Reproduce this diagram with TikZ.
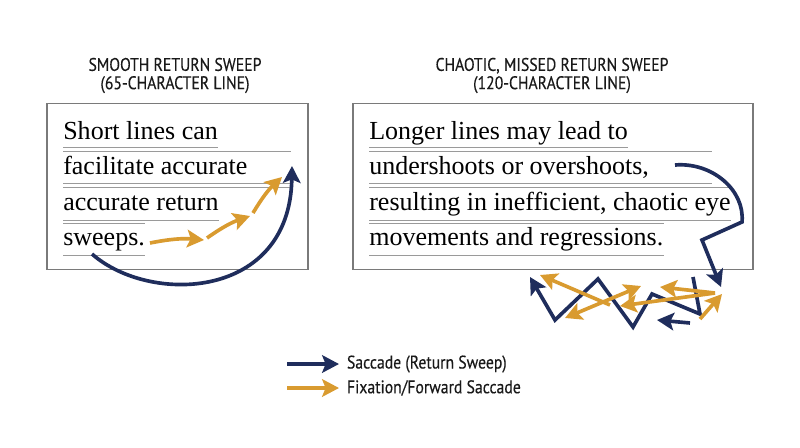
\documentclass[tikz,border=0pt]{standalone}
\usepackage{fontspec}
\setmainfont{Liberation Serif}
\setsansfont{PT Sans}
\newfontfamily\narrowsans[FakeStretch=0.86,FakeBold=0.3]{PT Sans}
\usetikzlibrary{arrows.meta}
\definecolor{navy}{HTML}{1F2D5C}
\definecolor{gold}{HTML}{D99B30}
\definecolor{rulegray}{HTML}{9A9A9A}
\definecolor{framegray}{HTML}{7A7A7A}

\begin{document}
\begin{tikzpicture}[x=0.025cm,y=-0.025cm,>={Stealth[length=12pt,width=12.5pt,inset=2.5pt]},
    title/.style={font=\narrowsans\fontsize{13}{13}\selectfont,align=center,text=black!90},
    body/.style={font=\fontsize{18.5}{20}\selectfont,anchor=base west,inner sep=0pt},
    frame/.style={draw=framegray,line width=0.9pt},
    rulers/.style={draw=rulegray,line width=0.6pt},
    sacc/.style={->,draw=navy,line width=2.6pt},
    fix/.style={->,draw=gold,line width=2.6pt},
    key/.style={font=\narrowsans\fontsize{13}{13}\selectfont,anchor=west,text=black!90}]
        \useasboundingbox (0,0) rectangle (800,447);
        % titles
        \node[title] (tleft) at (175,75.5) {SMOOTH RETURN SWEEP\\(65-CHARACTER LINE)};
        \node[title] (tright) at (552,75.5) {CHAOTIC, MISSED RETURN SWEEP\\(120-CHARACTER LINE)};
        % left box
        \draw[frame] (47,103.5) rectangle (308,269.5);
        \node[body] (s1) at (63,139) {Short lines can};
        \node[body] (s2) at (63,174.5) {facilitate accurate};
        \node[body] (s3) at (63,210) {accurate return};
        \node[body] (s4) at (63,245.5) {sweeps.};
        \draw[rulers] (s1.base west |- 0,147.5) -- (s1.base east |- 0,147.5);
        \draw[rulers] (63,151.5) -- (291,151.5);
        \draw[rulers] (63,183.5) -- (290,183.5);
        \draw[rulers] (63,187.5) -- (290,187.5);
        \draw[rulers] (s3.base west |- 0,220) -- (s3.base east |- 0,220);
        \draw[rulers] (s4.base west |- 0,223.5) -- (s4.base east |- 0,223.5);
        \draw[rulers] (s4.base west |- 0,255.5) -- (s4.base east |- 0,255.5);
        % right box
        \draw[frame] (353,103.5) rectangle (753,269.5);
        \node[body] (l1) at (369,139) {Longer lines may lead to};
        \node[body] (l2) at (369,174.5) {undershoots or overshoots,};
        \node[body] (l3) at (369,210) {resulting in inefficient, chaotic eye};
        \node[body] (l4) at (369,245.5) {movements and regressions.};
        \draw[rulers] (l1.base west |- 0,147.5) -- (l1.base east |- 0,147.5);
        \draw[rulers] (369,151.5) -- (712,151.5);
        \draw[rulers] (369,183.5) -- (712,183.5);
        \draw[rulers] (l3.base west |- 0,187.5) -- (l3.base east |- 0,187.5);
        \draw[rulers] (l3.base west |- 0,220) -- (l3.base east |- 0,220);
        \draw[rulers] (l4.base west |- 0,223.5) -- (l4.base east |- 0,223.5);
        \draw[rulers] (l4.base west |- 0,255.5) -- (l4.base east |- 0,255.5);
        % smooth sweep
        \coordinate (sw0) at (92,254);
        \coordinate (sw1) at (292,166);
        \draw[sacc] (sw0) .. controls (150,305) and (290,300) .. (sw1);
        \coordinate (f0) at (150,243);
        \coordinate (f1) at (204,240);
        \coordinate (f2) at (207,238);
        \coordinate (f3) at (250,216);
        \coordinate (f4) at (253,213);
        \coordinate (f5) at (282,177);
        \draw[fix] (f0) to[bend left=8] (f1);
        \draw[fix] (f2) to[bend left=8] (f3);
        \draw[fix] (f4) to[bend left=8] (f5);
        % missed sweep
        \coordinate (m0) at (675,165);
        \coordinate (m1) at (742,222);
        \coordinate (m2) at (702,240);
        \coordinate (m3) at (721,287);
        \draw[sacc] (m0) .. controls (712,162) and (745,190) .. (m1) -- (m2) -- (m3);
        % chaotic eye movements
        \coordinate (z0) at (693,277);
        \coordinate (z1) at (700,314);
        \coordinate (z2) at (652,294);
        \coordinate (z3) at (633,327);
        \coordinate (z4) at (598,279);
        \coordinate (z5) at (555,320);
        \coordinate (z6) at (530,277);
        \draw[sacc] (z0) -- (z1) -- (z2) -- (z3) -- (z4) -- (z5) -- (z6);
        \coordinate (b0) at (690,323);
        \coordinate (b1) at (657,320);
        \draw[sacc] (b0) -- (b1);
        \coordinate (g0) at (610,305);
        \coordinate (g1) at (540,275);
        \coordinate (g2) at (565,318);
        \coordinate (g3) at (641,286);
        \coordinate (g4) at (715,293);
        \coordinate (g5) at (660,287);
        \coordinate (g6) at (620,306);
        \coordinate (g7) at (700,319);
        \coordinate (g8) at (722,294);
        \draw[fix] (g0) -- (g1);
        \draw[fix,<->] (g2) -- (g3);
        \draw[fix] (g4) -- (g5);
        \draw[fix] (g4) -- (g6);
        \draw[fix] (g7) -- (g8);
        % legend
        \coordinate (k0) at (287,364);
        \coordinate (k1) at (339,364);
        \coordinate (k2) at (287,388);
        \coordinate (k3) at (339,388);
        \draw[sacc] (k0) -- (k1);
        \draw[fix] (k2) -- (k3);
        \node[key] (ksacc) at (342,364) {Saccade (Return Sweep)};
        \node[key] (kfix) at (342,388) {Fixation/Forward Saccade};
      \end{tikzpicture}
\end{document}
